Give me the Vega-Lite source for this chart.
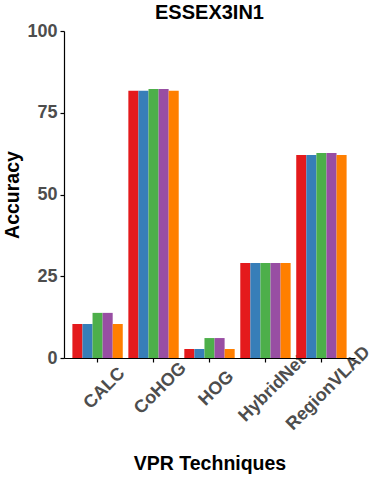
{
  "$schema": "https://vega.github.io/schema/vega-lite/v6.json",
  "autosize": "none",
  "width": 291,
  "height": 327,
  "padding": {"left": 64, "top": 31, "right": 20, "bottom": 121},
  "background": "white",
  "title": {
    "text": "ESSEX3IN1",
    "font": "Liberation Sans",
    "fontSize": 20,
    "fontWeight": "bold",
    "color": "black",
    "anchor": "middle",
    "frame": "group",
    "baseline": "top",
    "offset": 0,
    "dy": 1
  },
  "config": {
    "view": {"stroke": null},
    "axis": {
      "grid": false,
      "domainColor": "black",
      "domainWidth": 1.2,
      "tickColor": "black",
      "tickWidth": 1.2,
      "tickSize": 4,
      "labelFont": "Liberation Sans",
      "labelFontWeight": "bold",
      "labelColor": "#4D4D4D",
      "labelFontSize": 18,
      "titleFont": "Liberation Sans",
      "titleFontWeight": "bold",
      "titleColor": "black",
      "titleFontSize": 19.5
    }
  },
  "data": {
    "values": [
      {"technique": "CALC", "series": "S1", "accuracy": 10.4},
      {"technique": "CALC", "series": "S2", "accuracy": 10.4},
      {"technique": "CALC", "series": "S3", "accuracy": 13.8},
      {"technique": "CALC", "series": "S4", "accuracy": 13.8},
      {"technique": "CALC", "series": "S5", "accuracy": 10.4},
      {"technique": "CoHOG", "series": "S1", "accuracy": 81.7},
      {"technique": "CoHOG", "series": "S2", "accuracy": 81.7},
      {"technique": "CoHOG", "series": "S3", "accuracy": 82.3},
      {"technique": "CoHOG", "series": "S4", "accuracy": 82.3},
      {"technique": "CoHOG", "series": "S5", "accuracy": 81.7},
      {"technique": "HOG", "series": "S1", "accuracy": 2.75},
      {"technique": "HOG", "series": "S2", "accuracy": 2.75},
      {"technique": "HOG", "series": "S3", "accuracy": 6.1},
      {"technique": "HOG", "series": "S4", "accuracy": 6.1},
      {"technique": "HOG", "series": "S5", "accuracy": 2.75},
      {"technique": "HybridNet", "series": "S1", "accuracy": 29.05},
      {"technique": "HybridNet", "series": "S2", "accuracy": 29.05},
      {"technique": "HybridNet", "series": "S3", "accuracy": 29.05},
      {"technique": "HybridNet", "series": "S4", "accuracy": 29.05},
      {"technique": "HybridNet", "series": "S5", "accuracy": 29.05},
      {"technique": "RegionVLAD", "series": "S1", "accuracy": 62.1},
      {"technique": "RegionVLAD", "series": "S2", "accuracy": 62.1},
      {"technique": "RegionVLAD", "series": "S3", "accuracy": 62.7},
      {"technique": "RegionVLAD", "series": "S4", "accuracy": 62.7},
      {"technique": "RegionVLAD", "series": "S5", "accuracy": 62.1}
    ]
  },
  "mark": {"type": "bar"},
  "encoding": {
    "x": {
      "field": "technique",
      "type": "nominal",
      "sort": ["CALC", "CoHOG", "HOG", "HybridNet", "RegionVLAD"],
      "scale": {"paddingInner": 0.1, "paddingOuter": 0.15},
      "axis": {
        "title": "VPR Techniques",
        "labelAngle": -45,
        "labelAlign": "center",
        "labelBaseline": "middle",
        "labelPadding": 26,
        "labelOffset": 7,
        "titlePadding": 21
      }
    },
    "xOffset": {"field": "series", "type": "nominal"},
    "y": {
      "field": "accuracy",
      "type": "quantitative",
      "scale": {"domain": [0, 100], "nice": false, "zero": true},
      "axis": {
        "title": "Accuracy",
        "values": [0, 25, 50, 75, 100],
        "labelPadding": 3,
        "titlePadding": 4
      }
    },
    "color": {
      "field": "series",
      "type": "nominal",
      "scale": {"range": ["#E41A1C", "#377EB8", "#4DAF4A", "#984EA3", "#FF7F00"]},
      "legend": null
    }
  }
}
